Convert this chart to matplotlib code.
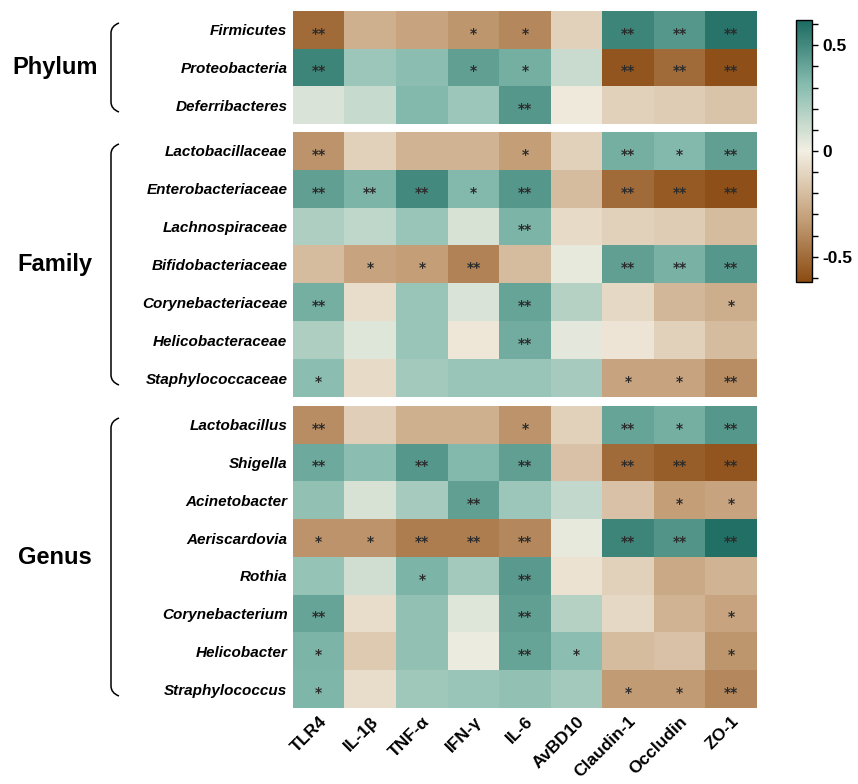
import numpy as np
import matplotlib
matplotlib.use("Agg")
import matplotlib.pyplot as plt
from matplotlib.colors import LinearSegmentedColormap
from matplotlib.path import Path
from matplotlib.patches import PathPatch

plt.rcParams["font.family"] = ["Liberation Sans", "DejaVu Sans"]

# colunas (marcadores)
markers = ["TLR4", "IL-1β", "TNF-α", "IFN-γ", "IL-6", "AvBD10", "Claudin-1", "Occludin", "ZO-1"]

# Filo
phylum_names = ["Firmicutes", "Proteobacteria", "Deferribacteres"]
phylum_r = [
    [-0.50, -0.25, -0.30, -0.35, -0.40, -0.12, 0.52, 0.45, 0.58],
    [0.52, 0.25, 0.30, 0.42, 0.36, 0.12, -0.58, -0.50, -0.60],
    [0.07, 0.13, 0.32, 0.25, 0.45, -0.02, -0.12, -0.14, -0.17],
]
phylum_sig = [
    ["**", "", "", "*", "*", "", "**", "**", "**"],
    ["**", "", "", "*", "*", "", "**", "**", "**"],
    ["", "", "", "", "**", "", "", "", ""],
]

# Família
family_names = ["Lactobacillaceae", "Enterobacteriaceae", "Lachnospiraceae", "Bifidobacteriaceae",
                "Corynebacteriaceae", "Helicobacteraceae", "Staphylococcaceae"]
family_r = [
    [-0.36, -0.12, -0.24, -0.24, -0.32, -0.12, 0.36, 0.32, 0.42],
    [0.42, 0.34, 0.50, 0.32, 0.45, -0.20, -0.50, -0.56, -0.60],
    [0.20, 0.15, 0.26, 0.08, 0.34, -0.08, -0.12, -0.14, -0.20],
    [-0.20, -0.30, -0.32, -0.42, -0.20, 0.03, 0.42, 0.35, 0.45],
    [0.36, -0.07, 0.26, 0.07, 0.40, 0.18, -0.09, -0.22, -0.26],
    [0.20, 0.06, 0.26, -0.03, 0.37, 0.04, -0.04, -0.12, -0.20],
    [0.30, -0.08, 0.23, 0.26, 0.26, 0.22, -0.30, -0.30, -0.38],
]
family_sig = [
    ["**", "", "", "", "*", "", "**", "*", "**"],
    ["**", "**", "**", "*", "**", "", "**", "**", "**"],
    ["", "", "", "", "**", "", "", "", ""],
    ["", "*", "*", "**", "", "", "**", "**", "**"],
    ["**", "", "", "", "**", "", "", "", "*"],
    ["", "", "", "", "**", "", "", "", ""],
    ["*", "", "", "", "", "", "*", "*", "**"],
]

# Gênero
genus_names = ["Lactobacillus", "Shigella", "Acinetobacter", "Aeriscardovia", "Rothia",
               "Corynebacterium", "Helicobacter", "Straphylococcus"]
genus_r = [
    [-0.38, -0.13, -0.25, -0.25, -0.36, -0.12, 0.40, 0.36, 0.45],
    [0.38, 0.30, 0.45, 0.32, 0.42, -0.18, -0.50, -0.55, -0.58],
    [0.28, 0.08, 0.22, 0.42, 0.25, 0.14, -0.18, -0.32, -0.30],
    [-0.36, -0.36, -0.44, -0.44, -0.40, 0.03, 0.52, 0.46, 0.60],
    [0.27, 0.10, 0.34, 0.23, 0.44, -0.05, -0.12, -0.28, -0.24],
    [0.40, -0.07, 0.28, 0.06, 0.42, 0.18, -0.09, -0.24, -0.30],
    [0.34, -0.15, 0.28, 0.02, 0.40, 0.30, -0.20, -0.18, -0.35],
    [0.33, -0.07, 0.24, 0.26, 0.28, 0.23, -0.33, -0.33, -0.40],
]
genus_sig = [
    ["**", "", "", "", "*", "", "**", "*", "**"],
    ["**", "", "**", "", "**", "", "**", "**", "**"],
    ["", "", "", "**", "", "", "", "*", "*"],
    ["*", "*", "**", "**", "**", "", "**", "**", "**"],
    ["", "", "*", "", "**", "", "", "", ""],
    ["**", "", "", "", "**", "", "", "", "*"],
    ["*", "", "", "", "**", "*", "", "", "*"],
    ["*", "", "", "", "", "", "*", "*", "**"],
]

cmap = LinearSegmentedColormap.from_list(
    "marrom_verde",
    [(0.0, "#8B4B12"), (0.25, "#C6A27C"), (0.5, "#F3EFE3"), (0.75, "#88BDB0"), (1.0, "#1B6A61")])
vmin, vmax = -0.62, 0.62

fig = plt.figure(figsize=(8.58, 7.84), dpi=100)

W, H = 858, 784
x0, x1 = 293, 757
paineis = [
    ("Phylum", phylum_names, phylum_r, phylum_sig, 11, 124),
    ("Family", family_names, family_r, family_sig, 132, 397),
    ("Genus", genus_names, genus_r, genus_sig, 406, 708),
]

for i, (grupo, nomes, valores, sig, ytop, ybot) in enumerate(paineis):
    ax = fig.add_axes([x0 / W, 1 - ybot / H, (x1 - x0) / W, (ybot - ytop) / H])
    dados = np.array(valores)
    im = ax.imshow(dados, cmap=cmap, vmin=vmin, vmax=vmax, aspect="auto", interpolation="nearest")
    for r in range(dados.shape[0]):
        for c in range(dados.shape[1]):
            if sig[r][c]:
                ax.text(c, r + 0.1, sig[r][c], ha="center", va="center", fontsize=10,
                        fontweight="bold", color="#2b2b2b", family=["DejaVu Sans"])
    ax.set_yticks(range(len(nomes)))
    ax.set_yticklabels(nomes, fontsize=11, fontweight="bold", fontstyle="italic")
    ax.tick_params(axis="y", length=0, pad=4)
    if i == len(paineis) - 1:
        ax.set_xticks(range(len(markers)))
        ax.set_xticklabels(markers, rotation=45, ha="right", rotation_mode="anchor",
                           fontsize=12.5, fontweight="bold")
        ax.tick_params(axis="x", length=0, pad=4)
    else:
        ax.set_xticks([])
    for s in ax.spines.values():
        s.set_visible(False)

    # rótulo do grupo
    ymid = 1 - (ytop + ybot) / 2 / H
    fig.text(55 / W, ymid, grupo, ha="center", va="center", fontsize=17, fontweight="bold")

    # chave
    yt = 1 - (ytop + 12) / H
    yb = 1 - (ybot - 12) / H
    xa, xb = 111 / W, 119 / W
    dy = 10 / H
    verts = [(xb, yt), (xa, yt - dy * 0.3), (xa, yt - dy), (xa, yb + dy), (xa, yb + dy * 0.3), (xb, yb)]
    codes = [Path.MOVETO, Path.CURVE3, Path.CURVE3, Path.LINETO, Path.CURVE3, Path.CURVE3]
    fig.patches.append(PathPatch(Path(verts, codes), transform=fig.transFigure,
                                 fill=False, lw=1.1, color="black"))

cax = fig.add_axes([796 / W, 1 - 282 / H, 16 / W, 262 / H])
cb = fig.colorbar(im, cax=cax)
ticks = np.round(np.arange(-0.6, 0.61, 0.1), 1)
cb.set_ticks(ticks)
rotulos = []
for t in ticks:
    if abs(t) < 1e-6:
        rotulos.append("0")
    elif abs(abs(t) - 0.5) < 1e-6:
        rotulos.append(f"{t:g}")
    else:
        rotulos.append("")
cb.set_ticklabels(rotulos)
cax.tick_params(labelsize=12.5, length=4, width=1)
for lbl in cax.get_yticklabels():
    lbl.set_fontweight("bold")
cb.outline.set_linewidth(1)

plt.savefig("out.png", dpi=100)
